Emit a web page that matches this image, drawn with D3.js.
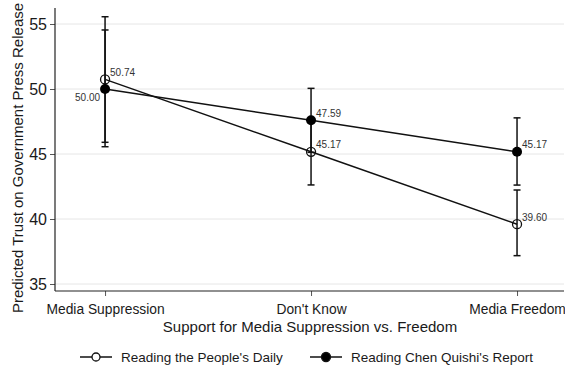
<!DOCTYPE html>
<html>
<head>
<meta charset="utf-8">
<script src="https://cdn.jsdelivr.net/npm/d3@7"></script>
<style>
  html, body { margin: 0; padding: 0; background: #fff; }
  svg { display: block; font-family: "Liberation Sans", Arial, sans-serif; }
</style>
</head>
<body>
<svg id="chart" width="565" height="371"></svg>
<script>
// Categories on the x axis
const categories = ["Media Suppression", "Don't Know", "Media Freedom"];

// Predicted trust, with 95% confidence bounds, for each reading condition
const peoplesDaily = [50.74, 45.17, 39.60];
const peoplesDailyLow = [45.90, 42.62, 37.18];
const peoplesDailyHigh = [55.56, 47.72, 42.23];

const chenQuishi = [50.00, 47.59, 45.17];
const chenQuishiLow = [45.56, 45.13, 42.61];
const chenQuishiHigh = [54.54, 50.05, 47.78];

const yTicks = [35, 40, 45, 50, 55];
const seriesNames = ["Reading the People's Daily", "Reading Chen Quishi's Report"];

const svg = d3.select("#chart");
const plotLeft = 55, plotRight = 564, plotTop = 8, plotBottom = 291;

const x = d3.scaleLinear().domain([0.757, 3.228]).range([plotLeft, plotRight]);
const y = d3.scaleLinear().domain([35, 55]).range([284, 24]);

// Horizontal gridlines
svg.append("g").selectAll("line").data(yTicks).join("line")
  .attr("x1", plotLeft).attr("x2", plotRight)
  .attr("y1", d => y(d)).attr("y2", d => y(d))
  .attr("stroke", "#e6e6e6").attr("stroke-width", 1);

// Y axis
const yAxis = svg.append("g").attr("transform", `translate(${plotLeft},0)`)
  .call(d3.axisLeft(y).tickValues(yTicks).tickSize(5).tickPadding(3));
yAxis.select(".domain").remove();
yAxis.selectAll(".tick line").attr("stroke", "#555");
yAxis.selectAll(".tick text").attr("font-size", 16).attr("fill", "#1a1a1a")
  .attr("font-family", "Liberation Sans, Arial, sans-serif");
svg.append("line").attr("x1", plotLeft).attr("x2", plotLeft).attr("y1", plotTop).attr("y2", plotBottom)
  .attr("stroke", "#222").attr("stroke-width", 1.2);

// X axis
const xAxis = svg.append("g").attr("transform", `translate(0,${plotBottom})`)
  .call(d3.axisBottom(x).tickValues([1, 2, 3]).tickFormat(d => categories[d - 1])
    .tickSize(5).tickPadding(8));
xAxis.select(".domain").remove();
xAxis.selectAll(".tick line").attr("stroke", "#555");
xAxis.selectAll(".tick text").attr("font-size", 13.8).attr("fill", "#1a1a1a")
  .attr("font-family", "Liberation Sans, Arial, sans-serif");
svg.append("line").attr("x1", plotLeft).attr("x2", plotRight).attr("y1", plotBottom).attr("y2", plotBottom)
  .attr("stroke", "#222").attr("stroke-width", 1.2);

// Axis titles
svg.append("text").attr("x", 310).attr("y", 332).attr("text-anchor", "middle")
  .attr("font-size", 15).attr("fill", "#1a1a1a")
  .text("Support for Media Suppression vs. Freedom");
svg.append("text").attr("transform", "translate(23,158) rotate(-90)")
  .attr("text-anchor", "middle").attr("font-size", 15).attr("fill", "#1a1a1a")
  .text("Predicted Trust on Government Press Release");

const idx = [0, 1, 2];
const line = d3.line().x(i => x(i + 1));

// Connecting lines
svg.append("path").attr("d", line.y(i => y(peoplesDaily[i]))(idx))
  .attr("fill", "none").attr("stroke", "#111").attr("stroke-width", 1.5);
svg.append("path").attr("d", line.y(i => y(chenQuishi[i]))(idx))
  .attr("fill", "none").attr("stroke", "#111").attr("stroke-width", 1.5);

// Error bars with caps
function errorBars(lo, hi) {
  const g = svg.append("g").attr("stroke", "#111").attr("stroke-width", 1.5);
  g.selectAll("line.v").data(idx).join("line").attr("class", "v")
    .attr("x1", i => x(i + 1)).attr("x2", i => x(i + 1))
    .attr("y1", i => y(lo[i])).attr("y2", i => y(hi[i]));
  [lo, hi].forEach(arr => {
    g.selectAll(null).data(idx).join("line")
      .attr("x1", i => x(i + 1) - 3.5).attr("x2", i => x(i + 1) + 3.5)
      .attr("y1", i => y(arr[i])).attr("y2", i => y(arr[i]));
  });
}
errorBars(peoplesDailyLow, peoplesDailyHigh);
errorBars(chenQuishiLow, chenQuishiHigh);

// Markers
svg.append("g").selectAll("circle").data(idx).join("circle")
  .attr("cx", i => x(i + 1)).attr("cy", i => y(peoplesDaily[i])).attr("r", 4.5)
  .attr("fill", "none").attr("stroke", "#111").attr("stroke-width", 1.3);
svg.append("g").selectAll("circle").data(idx).join("circle")
  .attr("cx", i => x(i + 1)).attr("cy", i => y(chenQuishi[i])).attr("r", 5)
  .attr("fill", "#000");

// Value labels
const fmt = d3.format(".2f");
svg.append("g").selectAll("text").data(idx).join("text")
  .attr("x", i => x(i + 1) + 5).attr("y", i => y(peoplesDaily[i]) - 3.5)
  .attr("font-size", 10).attr("fill", "#333")
  .text(i => fmt(peoplesDaily[i]));
svg.append("g").selectAll("text").data(idx).join("text")
  .attr("x", i => i === 0 ? x(i + 1) - 5 : x(i + 1) + 5)
  .attr("y", i => i === 0 ? y(chenQuishi[i]) + 11.5 : y(chenQuishi[i]) - 3.5)
  .attr("text-anchor", i => i === 0 ? "end" : "start")
  .attr("font-size", 10).attr("fill", "#333")
  .text(i => fmt(chenQuishi[i]));

// Legend
const legend = [
  { name: seriesNames[0], x0: 80, filled: false, tx: 121 },
  { name: seriesNames[1], x0: 310, filled: true, tx: 351 }
];
const lg = svg.append("g");
legend.forEach(d => {
  lg.append("line").attr("x1", d.x0).attr("x2", d.x0 + 32).attr("y1", 357).attr("y2", 357)
    .attr("stroke", "#111").attr("stroke-width", 1.5);
  lg.append("circle").attr("cx", d.x0 + 16).attr("cy", 357).attr("r", d.filled ? 4.5 : 4)
    .attr("fill", d.filled ? "#000" : "#fff").attr("stroke", "#111").attr("stroke-width", 1.3);
  lg.append("text").attr("x", d.tx).attr("y", 362).attr("font-size", 13.5).attr("fill", "#1a1a1a")
    .text(d.name);
});
</script>
</body>
</html>
